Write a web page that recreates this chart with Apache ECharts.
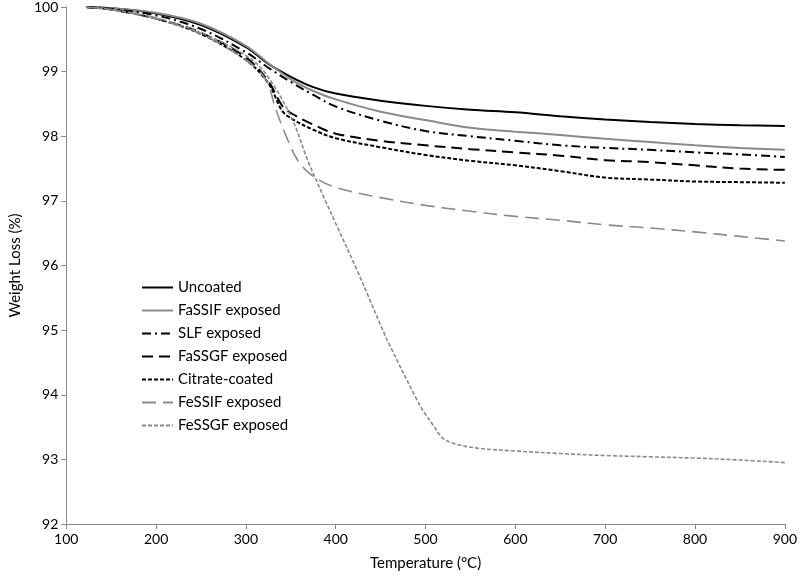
<!DOCTYPE html>
<html>
<head>
<meta charset="utf-8">
<script src="https://cdn.jsdelivr.net/npm/echarts@6/dist/echarts.min.js"></script>
<style>html,body{margin:0;padding:0;background:#fff;}#c{width:800px;height:576px;}</style>
</head>
<body>
<div id="c"></div>
<script>
const seriesNames = ["Uncoated","FaSSIF exposed","SLF exposed","FaSSGF exposed","Citrate-coated","FeSSIF exposed","FeSSGF exposed"];
const xTicks = [100,200,300,400,500,600,700,800,900];
const yTicks = [92,93,94,95,96,97,98,99,100];

const uncoatedT = [122,150,200,250,300,325,350,375,400,450,500,550,600,650,700,750,800,850,900];
const uncoatedW = [100,99.98,99.90,99.72,99.38,99.12,98.92,98.76,98.66,98.55,98.47,98.41,98.37,98.31,98.26,98.22,98.19,98.17,98.16];

const fassifT = [122,150,200,250,300,325,350,375,400,450,500,550,600,650,700,750,800,850,900];
const fassifW = [100,99.98,99.91,99.74,99.40,99.13,98.88,98.70,98.57,98.38,98.25,98.13,98.07,98.02,97.96,97.91,97.86,97.82,97.79];

const slfT = [122,150,200,250,300,325,350,375,400,450,500,550,600,650,700,750,800,850,900];
const slfW = [100,99.97,99.87,99.66,99.30,99.06,98.84,98.64,98.46,98.24,98.08,98.00,97.93,97.86,97.82,97.79,97.75,97.72,97.68];

const fassgfT = [122,150,200,250,300,325,340,350,375,400,450,500,550,600,650,700,750,800,850,900];
const fassgfW = [100,99.96,99.82,99.60,99.22,98.85,98.48,98.36,98.18,98.04,97.93,97.86,97.80,97.75,97.70,97.63,97.60,97.55,97.50,97.48];

const citrateT = [122,150,200,250,300,325,340,350,375,400,450,500,550,600,650,700,750,800,850,900];
const citrateW = [100,99.96,99.82,99.58,99.18,98.82,98.40,98.28,98.10,97.97,97.83,97.71,97.62,97.55,97.46,97.36,97.33,97.30,97.29,97.28];

const fessifT = [122,150,200,250,300,322,333,344,358,375,400,450,500,550,600,650,700,750,800,850,900];
const fessifW = [100,99.96,99.82,99.58,99.18,98.88,98.43,98.03,97.62,97.38,97.21,97.05,96.93,96.84,96.76,96.70,96.63,96.58,96.52,96.45,96.38];

const fessgfT = [122,150,200,250,300,322,351,369,387,401,424,437,453,461,489,497,510,519,533,560,600,650,700,750,800,850,900];
const fessgfW = [100,99.96,99.83,99.60,99.25,98.97,98.28,97.62,97.05,96.62,95.92,95.50,94.98,94.74,93.96,93.76,93.50,93.33,93.24,93.17,93.13,93.09,93.06,93.04,93.02,92.99,92.95];

function pairs(t, w){ return t.map((x,i)=>[x,w[i]]); }

const GRAY = '#8a8a8a';
const defs = [
  {t:uncoatedT, w:uncoatedW, color:'#000', width:2, type:'solid'},
  {t:fassifT, w:fassifW, color:GRAY, width:2, type:'solid'},
  {t:slfT, w:slfW, color:'#000', width:2, type:[9,4,2,4]},
  {t:fassgfT, w:fassgfW, color:'#000', width:2, type:[11,6]},
  {t:citrateT, w:citrateW, color:'#000', width:2, type:[4,2]},
  {t:fessifT, w:fessifW, color:GRAY, width:1.6, type:[14,7]},
  {t:fessgfT, w:fessgfW, color:GRAY, width:1.6, type:[4,2]}
];

const FONT = 'Lato';
const chart = echarts.init(document.getElementById('c'), null, {renderer:'canvas'});
chart.setOption({
  animation:false,
  backgroundColor:'#fff',
  grid:{left:57, right:11, top:5, bottom:50, containLabel:false},
  legend:{
    orient:'vertical', left:136, top:275, itemGap:8,
    itemWidth:31, itemHeight:14,
    itemStyle:{opacity:0},
    textStyle:{fontFamily:FONT, fontSize:15, color:'#000'},
    data: seriesNames
  },
  xAxis:{
    type:'value', min:100, max:900, interval:100,
    name:'Temperature (°C)', nameLocation:'middle', nameGap:32,
    nameTextStyle:{fontFamily:FONT, fontSize:15, color:'#000'},
    axisLine:{lineStyle:{color:'#888', width:1}},
    axisTick:{show:true, length:5, lineStyle:{color:'#888'}},
    axisLabel:{fontFamily:FONT, fontSize:14, color:'#000', margin:8},
    splitLine:{show:false}
  },
  yAxis:{
    type:'value', min:92, max:100, interval:1,
    name:'Weight Loss (%)', nameLocation:'middle', nameGap:38,
    nameTextStyle:{fontFamily:FONT, fontSize:15, color:'#000'},
    axisLine:{show:true, lineStyle:{color:'#888', width:1}},
    axisTick:{show:true, length:5, lineStyle:{color:'#888'}},
    axisLabel:{fontFamily:FONT, fontSize:14, color:'#000', margin:8},
    splitLine:{show:false}
  },
  series: defs.map((d,i)=>({
    name: seriesNames[i], type:'line',
    data: pairs(d.t, d.w),
    showSymbol:false, symbol:'none',
    smooth:0.35,
    lineStyle:{color:d.color, width:d.width, type:d.type},
    itemStyle:{color:d.color}
  }))
});
</script>
</body>
</html>
